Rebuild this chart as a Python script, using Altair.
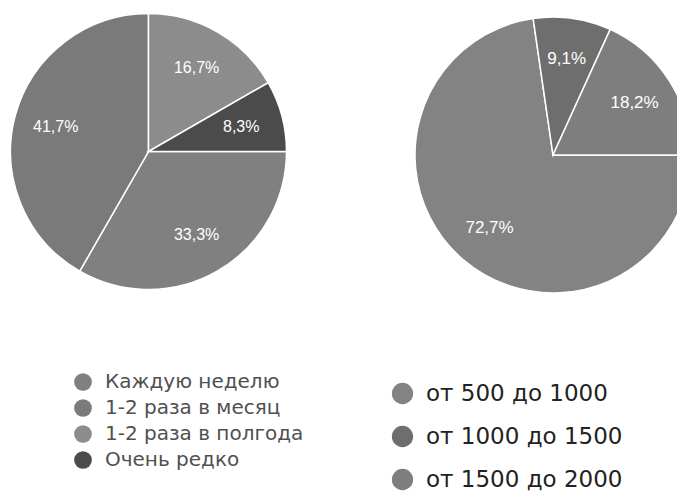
import math
import altair as alt
import pandas as pd

# Left pie: visit frequency
freq_labels = ["Каждую неделю", "1-2 раза в месяц", "1-2 раза в полгода", "Очень редко"]
freq_values = [33.3, 41.7, 16.7, 8.3]
freq_text = ["33,3%", "41,7%", "16,7%", "8,3%"]
freq_colors = ["#808080", "#7a7a7a", "#8c8c8c", "#4b4b4b"]

# Right pie: spending range
price_labels = ["от 500 до 1000", "от 1000 до 1500", "от 1500 до 2000"]
price_values = [72.7, 9.1, 18.2]
price_text = ["72,7%", "9,1%", "18,2%"]
price_colors = ["#838383", "#6e6e6e", "#7e7e7e"]

theta_scale = alt.Scale(domain=[0, 100], range=[math.pi / 2, math.pi / 2 + 2 * math.pi])


def make_pie(labels, values, texts, colors, cx, cy, r, lr, font_size, legend):
    df = pd.DataFrame({
        "idx": list(range(len(labels))),
        "label": labels,
        "value": values,
        "text": texts,
    })
    base = alt.Chart(df).transform_window(
        cum="sum(value)", sort=[alt.SortField("idx")], frame=[None, 0]
    ).transform_calculate(
        start="datum.cum - datum.value",
        mid="datum.cum - datum.value / 2",
    )
    arc = base.mark_arc(outerRadius=r, stroke="white", strokeWidth=1.5).encode(
        theta=alt.Theta("start:Q", stack=False, scale=theta_scale),
        theta2="cum:Q",
        color=alt.Color(
            "label:N",
            scale=alt.Scale(domain=labels, range=colors),
            sort=labels,
            legend=legend,
        ),
        x=alt.value(cx),
        y=alt.value(cy),
    )
    text = base.mark_text(
        radius=lr, fill="white", fontSize=font_size, font="Liberation Sans"
    ).encode(
        theta=alt.Theta("mid:Q", stack=False, scale=theta_scale),
        text="text:N",
        x=alt.value(cx),
        y=alt.value(cy),
    )
    return alt.layer(arc, text)


left_legend = alt.Legend(
    orient="none", legendX=65, legendY=364, title=None,
    symbolType="circle", symbolSize=314, symbolStrokeWidth=0, symbolOpacity=1,
    labelFontSize=20, labelFont="DejaVu Sans", labelColor="#505050",
    rowPadding=6, labelOffset=12, labelLimit=400,
)
right_legend = alt.Legend(
    orient="none", legendX=383, legendY=374, title=None,
    symbolType="circle", symbolSize=452, symbolStrokeWidth=0, symbolOpacity=1,
    labelFontSize=23, labelFont="DejaVu Sans", labelColor="#222222",
    rowPadding=19, labelOffset=12, labelLimit=400,
)

left = make_pie(freq_labels, freq_values, freq_text, freq_colors,
                140.5, 143.5, 138, 96, 16, left_legend)
right = make_pie(price_labels, price_values, price_text, price_colors,
                 545, 147, 138, 97, 17, right_legend)

chart = alt.layer(left, right).resolve_scale(
    color="independent", theta="independent"
).properties(
    width=669, height=484, padding=0,
    autosize=alt.AutoSizeParams(type="none"),
).configure_view(stroke=None)

chart.save("out.html", embed_options={"renderer": "svg", "actions": False})
